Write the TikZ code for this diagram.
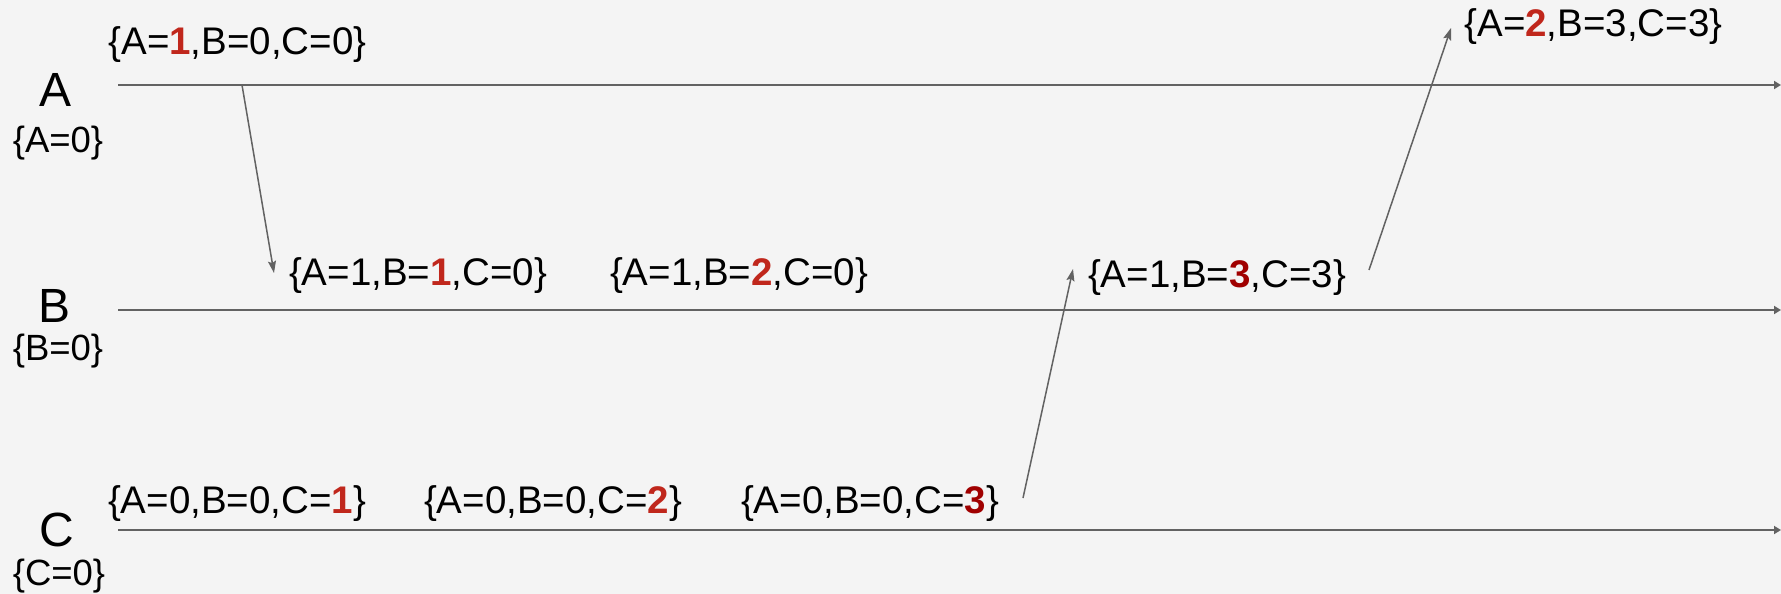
\documentclass[tikz,border=0pt]{standalone}
\usepackage{fontspec}
\setmainfont{Liberation Sans}
\usetikzlibrary{arrows.meta}
\definecolor{bggray}{HTML}{F4F4F4}
\definecolor{linegray}{HTML}{626262}
\definecolor{redinc}{HTML}{C0271C}
\definecolor{redmax}{HTML}{A00000}
\newcommand{\inc}[1]{\textcolor{redinc}{\textbf{#1}}}
\newcommand{\incmax}[1]{\textcolor{redmax}{\textbf{#1}}}

\begin{document}
\begin{tikzpicture}[x=1pt, y=-1pt,
  proc/.style={inner sep=0pt, font=\fontsize{48}{48}\selectfont},
  init/.style={inner sep=0pt, anchor=base, font=\fontsize{36.5}{36}\selectfont},
  clock/.style={inner sep=0pt, anchor=base, font=\fontsize{38.5}{38}\selectfont},
  timeline/.style={draw=linegray, line width=1.9pt, -{Triangle[length=7pt, width=8pt]}},
  msg/.style={draw=linegray, line width=1.5pt, -{Stealth[length=12pt, width=8pt, inset=2pt]}}
]
  \fill[bggray] (0,0) rectangle (1781,594);
  \useasboundingbox (0,0) rectangle (1781,594);

  \node[proc] (pA) at (56, 89.5) {A};
  \node[proc] (pB) at (55, 305.5) {B};
  \node[proc] (pC) at (57, 530) {C};
  \node[init] (iA) at (58, 152) {\{A=0\}};
  \node[init] (iB) at (58, 360) {\{B=0\}};
  \node[init] (iC) at (59, 585) {\{C=0\}};

  \coordinate (startA) at (118, 85);
  \coordinate (endA) at (1781, 85);
  \coordinate (startB) at (118, 310);
  \coordinate (endB) at (1781, 310);
  \coordinate (startC) at (118, 530);
  \coordinate (endC) at (1781, 530);
  \draw[timeline] (startA) -- (endA);
  \draw[timeline] (startB) -- (endB);
  \draw[timeline] (startC) -- (endC);

  \node[clock] (a1) at (237.5, 55) {\{A=\inc{1},B=0,C=0\}};
  \node[clock] (a2) at (1593.5, 37) {\{A=\inc{2},B=3,C=3\}};
  \node[clock] (b1) at (418, 285) {\{A=1,B=\inc{1},C=0\}};
  \node[clock] (b2) at (739, 285) {\{A=1,B=\inc{2},C=0\}};
  \node[clock] (b3) at (1217, 287) {\{A=1,B=\incmax{3},C=3\}};
  \node[clock] (c1) at (237, 513) {\{A=0,B=0,C=\inc{1}\}};
  \node[clock] (c2) at (553, 513) {\{A=0,B=0,C=\inc{2}\}};
  \node[clock] (c3) at (870, 513) {\{A=0,B=0,C=\incmax{3}\}};

  \coordinate (sendA) at (242, 85);
  \coordinate (recvB) at (274, 273);
  \coordinate (sendC) at (1023, 498);
  \coordinate (recvBC) at (1073, 269);
  \coordinate (sendB) at (1369, 270);
  \coordinate (recvA) at (1451, 28);
  \draw[msg] (sendA) -- (recvB);
  \draw[msg] (sendC) -- (recvBC);
  \draw[msg] (sendB) -- (recvA);
\end{tikzpicture}
\end{document}
